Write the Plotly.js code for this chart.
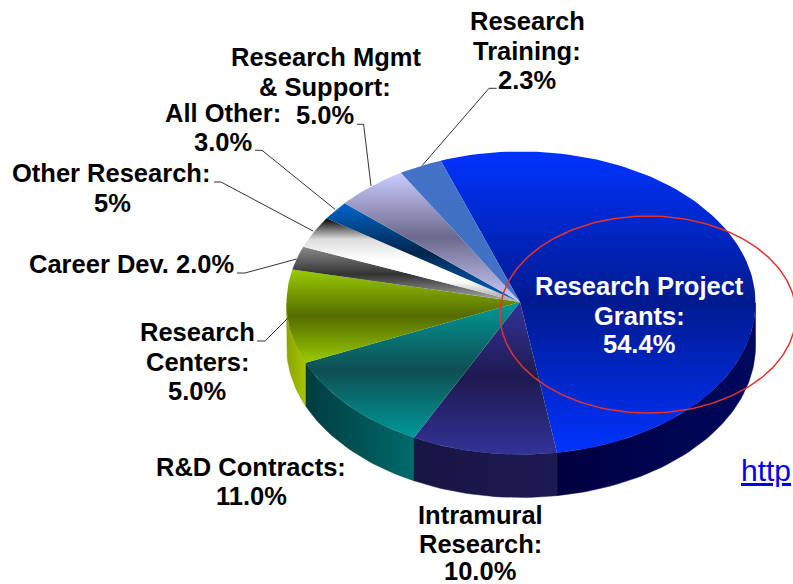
<!DOCTYPE html>
<html>
<head>
<meta charset="utf-8">
<script src="https://cdn.plot.ly/plotly-3.0.1.min.js"></script>
<style>html,body{margin:0;padding:0;background:#fff;overflow:hidden}#c{width:793px;height:584px}</style>
</head>
<body>
<div id="c"></div>
<script>
// Data
const categories = ["Research Project Grants","Intramural Research","R&D Contracts","Research Centers","Career Dev.","Other Research","All Other","Research Mgmt & Support","Research Training"];
const printedValues = ["54.4%","10.0%","11.0%","5.0%","2.0%","5%","3.0%","5.0%","2.3%"];
// Share of the drawn pie each slice occupies (the picture's slices, not its printed labels)
const drawnShares = [53.1,10.0,11.0,10.0,2.5,3.4,2.0,5.0,3.0];

// Styles
const topColors = [
 ["#0033ff","#001a8f","#0033ff"],
 ["#333399","#1e1a50","#333399"],
 ["#009999","#0f4f52","#009999"],
 ["#99cc00","#556b00","#99cc00"],
 ["#8a8a8a","#333333","#b0b0b0"],
 ["#000000","#dddddd","#ffffff","#ffffff","#999999"],
 ["#0066cc","#00264d","#0066cc"],
 ["#ccccff","#6b6a8c","#ccccff"],
 ["#4472c8","#4070c4","#4472c8"]
];
const rimColors = [
 ["#00085e","#00003f"],
 ["#1c1a52","#181544"],
 ["#003c40","#006a6a"],
 ["#8aa300","#a6c400"],
 null,null,null,null,null
];

// Geometry of the pie on the page
const pie = {cx:521, cy:303, rx:234.5, ry:151.5, depth:43, startDeg:-20};
const hub = {x:520, y:302};
const ring = {cx:648, cy:314.5, rx:148, ry:98.5};

function px(deg){return pie.cx + pie.rx*Math.sin(deg*Math.PI/180);}
function py(deg){return pie.cy - pie.ry*Math.cos(deg*Math.PI/180);}
function arc(a,b){const o=[];const n=Math.max(2,Math.ceil(Math.abs(b-a)/1.5));for(let i=0;i<=n;i++)o.push(a+(b-a)*i/n);return o;}

const traces=[];
const total=drawnShares.reduce((s,v)=>s+v,0);
let a0=pie.startDeg;
const sweeps=drawnShares.map(v=>{const s=[a0,a0+v/total*360];a0=s[1];return s;});

// Front wall of each slice
sweeps.forEach((s,i)=>{
  if(!rimColors[i])return;
  const a=Math.max(s[0],90), b=Math.min(s[1],270);
  if(b<=a)return;
  const t=arc(a,b);
  const xs=t.map(px).concat(t.slice().reverse().map(px));
  const ys=t.map(py).concat(t.slice().reverse().map(d=>py(d)+pie.depth));
  const lo=Math.min(...xs),hi=Math.max(...xs);
  traces.push({type:'scatter',mode:'lines',x:xs.concat(xs[0]),y:ys.concat(ys[0]),fill:'toself',
    line:{width:0.5,color:rimColors[i][0]},hoverinfo:'skip',showlegend:false,name:categories[i],
    fillgradient:{type:'horizontal',start:lo,stop:hi,colorscale:[[0,rimColors[i][i<2?1:0]],[1,rimColors[i][i<2?0:1]]]}});
});

// Top face of each slice
sweeps.forEach((s,i)=>{
  const t=arc(s[0],s[1]);
  const xs=[hub.x].concat(t.map(px),[hub.x]);
  const ys=[hub.y].concat(t.map(py),[hub.y]);
  const lo=Math.min(...ys),hi=Math.max(...ys);
  const cols=topColors[i];
  traces.push({type:'scatter',mode:'lines',x:xs,y:ys,fill:'toself',line:{width:0},
    hoverinfo:'skip',showlegend:false,name:categories[i],
    fillgradient:{type:'vertical',start:lo,stop:hi,
      colorscale:cols.map((c,k)=>[k/(cols.length-1),c])}});
});

// Leader lines
const leaders=[
 [[496.7,489,422],[88.3,88.3,165.7]],
 [[357,363.6,371],[124.3,124.3,186]],
 [[255,262,335],[150.3,150.3,209.3]],
 [[214,221,313],[182,182,231]],
 [[237,245,296.6],[273,273,259]],
 [[257,265,288],[341,341,318]]
];
leaders.forEach(l=>traces.push({type:'scatter',mode:'lines',x:l[0],y:l[1],line:{color:'#333333',width:1},hoverinfo:'skip',showlegend:false}));

// Red ring
const rt=arc(0,360);
traces.push({type:'scatter',mode:'lines',
  x:rt.map(d=>ring.cx+ring.rx*Math.sin(d*Math.PI/180)),
  y:rt.map(d=>ring.cy+ring.ry*Math.cos(d*Math.PI/180)),
  line:{color:'#e2342e',width:1.5},hoverinfo:'skip',showlegend:false});

// Text lines
const black='#000000';
const textLines=[
 ["Research",527,21,black],["Training:",527,51,black],[printedValues[8],527,80,black],
 ["Research Mgmt",326,57,black],["& Support:",325,87,black],[printedValues[7],325,115,black],
 ["All Other:",223,113,black],[printedValues[6],223,142,black],
 ["Other Research:",111,173,black],[printedValues[5],112,203,black],
 ["Career Dev. "+printedValues[4],131,264,black],
 ["Research",197,332,black],["Centers:",197,362,black],[printedValues[3],197,391,black],
 ["R&D Contracts:",251,467,black],[printedValues[2],251,496,black],
 ["Intramural",480,515,black],["Research:",480,544,black],[printedValues[1],480,571,black],
 ["Research Project",639,286,'#ffffff'],["Grants:",639,316,'#ffffff'],[printedValues[0],639,344,'#ffffff']
];
const annotations=textLines.map(t=>({x:t[1],y:t[2],xref:'x',yref:'y',text:'<b>'+t[0].replace('&','&amp;')+'</b>',showarrow:false,
  xanchor:'center',yanchor:'middle',font:{family:'Liberation Sans',size:25.5,color:t[3]}}));
annotations.push({x:739,y:470,xref:'x',yref:'y',text:'http',showarrow:false,xanchor:'left',yanchor:'middle',
  font:{family:'Liberation Sans',size:30,color:'#0000ee',lineposition:'under'}});

Plotly.newPlot('c',traces,{
  width:793,height:584,margin:{l:0,r:0,t:0,b:0},showlegend:false,
  paper_bgcolor:'#ffffff',plot_bgcolor:'#ffffff',
  xaxis:{range:[0,793],visible:false,fixedrange:true},
  yaxis:{range:[584,0],visible:false,fixedrange:true},
  annotations:annotations
},{displayModeBar:false,staticPlot:true});
</script>
</body>
</html>
